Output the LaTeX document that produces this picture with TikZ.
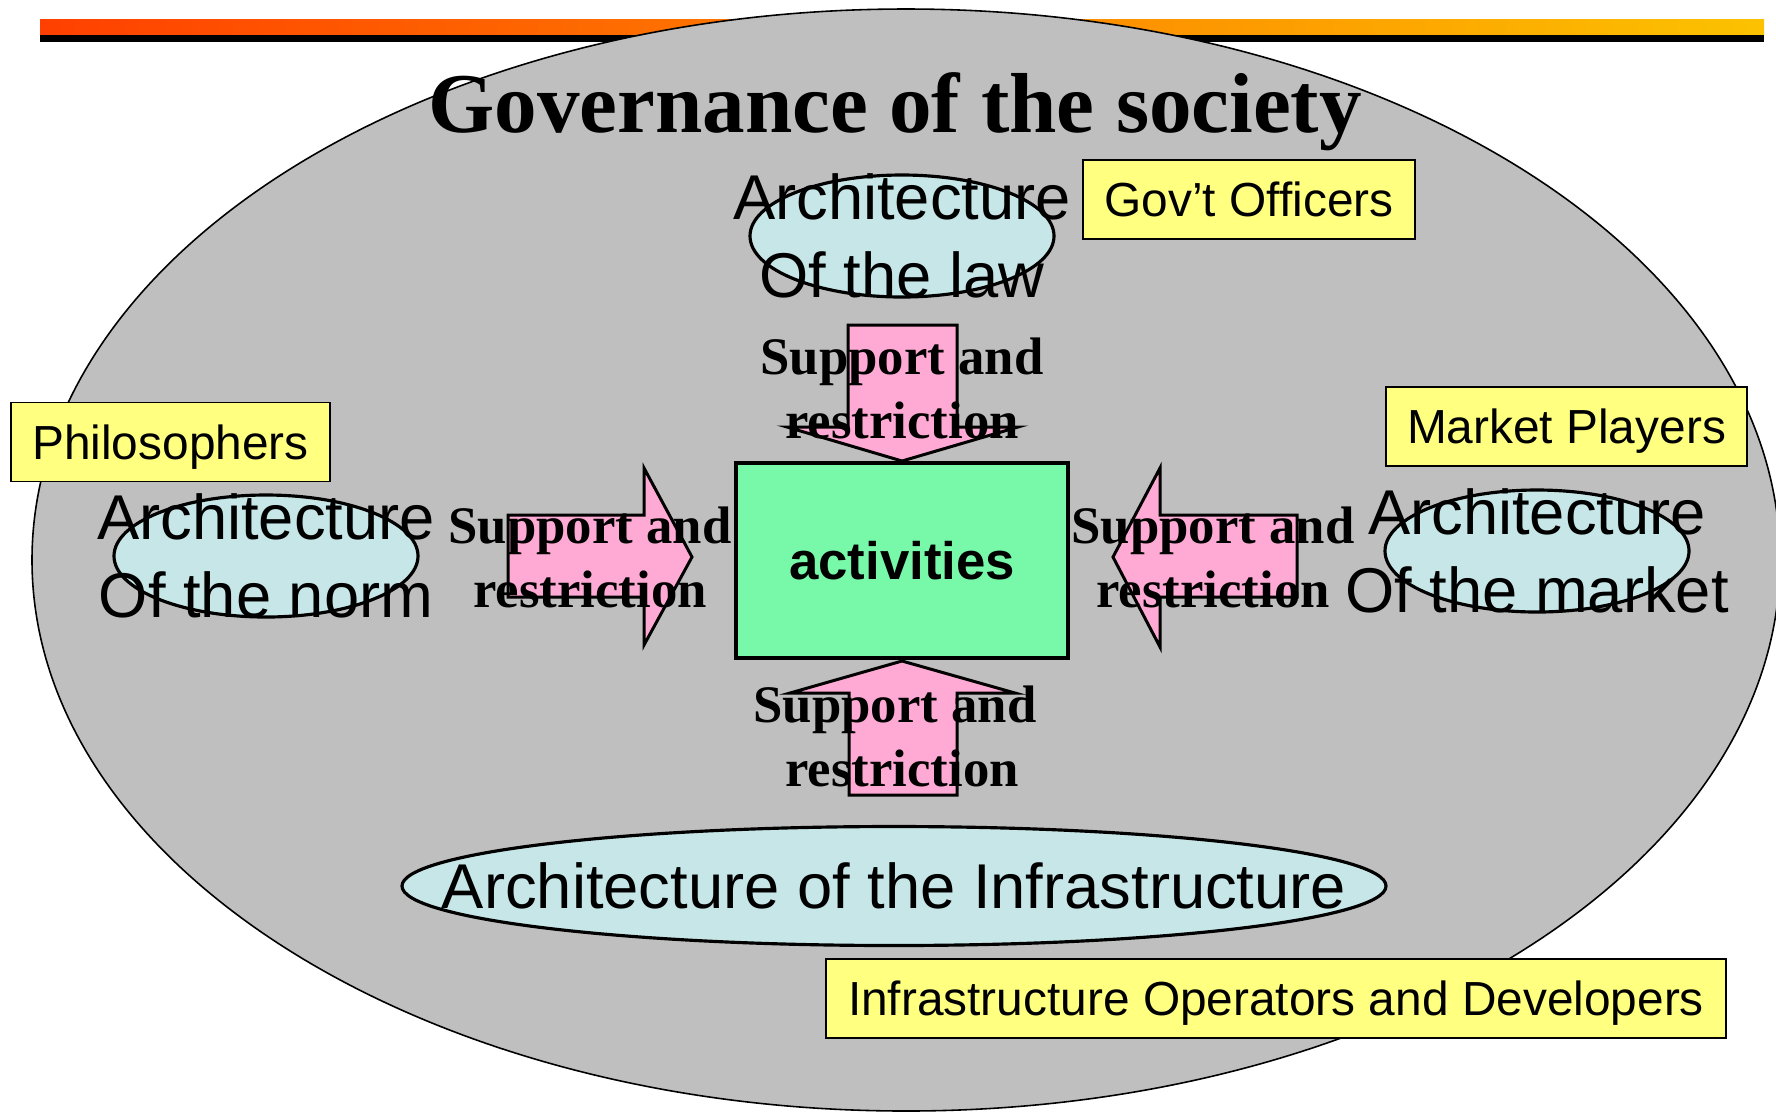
\documentclass[tikz,border=0pt]{standalone}
\usepackage{fontspec}
\setmainfont{Liberation Sans}
\newfontfamily\romanfont{Liberation Serif}
\definecolor{govgray}{HTML}{BFBFBF}
\definecolor{archblue}{HTML}{C6E6E8}
\definecolor{supppink}{HTML}{FFAAD5}
\definecolor{actgreen}{HTML}{77F9A9}
\definecolor{actoryellow}{HTML}{FFFF80}
\begin{document}
\begin{tikzpicture}[x=0.01cm,y=-0.01cm,
    archfill/.style={fill=archblue,draw=black,line width=0.9pt},
    archtext/.style={inner sep=0pt,align=center,text depth=0pt,font=\fontsize{18}{22.2}\selectfont},
    supparrow/.style={fill=supppink,draw=black,line width=0.85pt,line join=miter},
    supptext/.style={inner sep=0pt,align=center,font=\romanfont\bfseries\fontsize{15}{18.2}\selectfont},
    actorbox/.style={fill=actoryellow,draw=black,line width=0.45pt,minimum height=0.79cm,inner sep=0pt,text depth=0pt,font=\fontsize{13.6}{16}\selectfont}]

    \useasboundingbox (0,0) rectangle (1776,1111);

    \shade[left color={rgb,255:red,255;green,64;blue,0},middle color={rgb,255:red,255;green,140;blue,0},right color={rgb,255:red,252;green,194;blue,0}] (40,19) rectangle (1764,35);
    \fill (40,35) rectangle (1764,42);

    \filldraw[fill=govgray,line width=0.45pt] (906,560) ellipse (874 and 551);

    \filldraw[archfill] (902,236) ellipse (152 and 61) node[archtext] (law) {Architecture\\Of the law};
    \filldraw[archfill] (266,556) ellipse (152 and 61) node[archtext] (norm) {Architecture\\Of the norm};
    \filldraw[archfill] (1537,551) ellipse (152 and 61) node[archtext] (market) {Architecture\\Of the market};
    \filldraw[archfill] (894,886) ellipse (492 and 59.5) node[archtext] (infra) {Architecture of the Infrastructure};

    \filldraw[supparrow] (848,325) -- (957,325) -- (957,427) -- (1018,427) -- (902,461) -- (787,427) -- (848,427) -- cycle;
    \filldraw[supparrow] (849,795) -- (957,795) -- (957,693) -- (1015,693) -- (902,661) -- (790,693) -- (849,693) -- cycle;
    \filldraw[supparrow] (508,515) -- (644,515) -- (644,468) -- (692,557) -- (644,645) -- (644,597) -- (508,597) -- cycle;
    \filldraw[supparrow] (1297,515) -- (1160,515) -- (1160,468) -- (1113,557) -- (1160,647) -- (1160,597) -- (1297,597) -- cycle;

    \node[draw,fill=actgreen,line width=1pt,minimum width=3.32cm,minimum height=1.95cm,
          font=\bfseries\fontsize{15}{18}\selectfont] (act) at (902,560.5) {activities};

    \node[supptext] (lawsupp) at (902,388) {Support and\\restriction};
    \node[supptext] (normsupp) at (590,557) {Support and\\restriction};
    \node[supptext] (marketsupp) at (1213,557) {Support and\\restriction};
    \node[supptext] (infrasupp) at (895,736) {Support and\\\hspace*{0.14cm}restriction};

    \node[actorbox,minimum width=3.32cm] (officers) at (1249,199.5) {Gov’t Officers};
    \node[actorbox,minimum width=3.19cm] (philosophers) at (170.5,442) {Philosophers};
    \node[actorbox,minimum width=3.61cm] (players) at (1566.5,426.5) {Market Players};
    \node[actorbox,minimum width=9.00cm] (operators) at (1276,998.5) {Infrastructure Operators and Developers};

    \node[anchor=base,font=\romanfont\bfseries\fontsize{24.2}{29}\selectfont] (title) at (895,132) {Governance of the society};
\end{tikzpicture}
\end{document}
